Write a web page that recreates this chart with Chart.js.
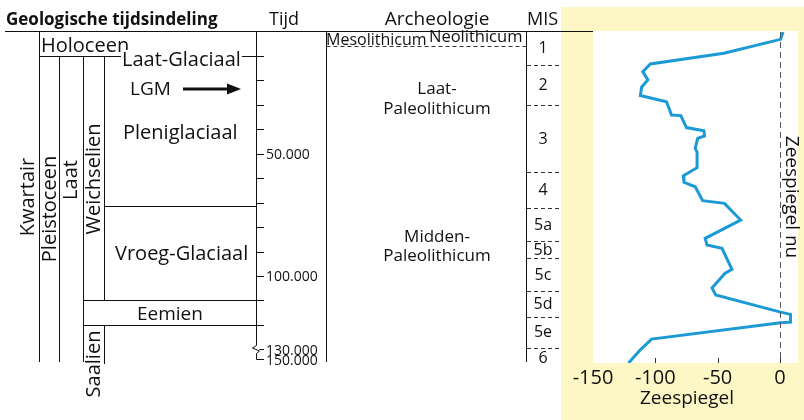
<!DOCTYPE html>
<html><head><meta charset="utf-8">
<script src="https://cdn.jsdelivr.net/npm/chart.js@4.4.1/dist/chart.umd.min.js"></script>
<style>html,body{margin:0;padding:0;background:#fff;overflow:hidden}canvas{display:block}</style>
</head><body>
<canvas id="c" width="804" height="420"></canvas>
<script>
// ---------- data ----------
// time in years before present, sea level in metres relative to today
const timeYears = [0, 3000, 8700, 13100, 16200, 19600, 22600, 26000, 28500, 34000,
  34200, 39100, 40400, 42500, 43500, 47600, 49000, 55500, 58800, 61500,
  63300, 69000, 70100, 76900, 84400, 87100, 88500, 97100, 98700, 104700,
  107600, 114600, 115500, 118700, 118900, 125600, 130100, 156000];
const seaLevel = [2.5, 0.5, -45, -104, -110, -106, -111, -112, -91, -87,
  -79.5, -75, -61, -60.5, -66, -68, -66.5, -66.5, -77.5, -77,
  -68, -62, -44.5, -31.5, -60, -58.5, -46.5, -38.5, -44, -54.5,
  -51.5, 0.5, 8.5, 8.5, 0.5, -103, -112, -121.5];
const seaTicks = [-150, -100, -50, 0];
const timeMinorTicks = [10000, 20000, 30000, 40000, 50000, 60000, 70000, 80000, 90000, 100000, 110000, 120000, 130000, 150000];
const timeTickLabels = [50000, 100000, 130000, 150000];
const timeMaxReal = 156000;
const axisBreakFrom = 130000, axisBreakFactor = 0.2075; // compressed 130.000-150.000
const misLabels = ['1', '2', '3', '4', '5a', '5b', '5c', '5d', '5e', '6'];
const misBoundaries = [13600, 30000, 57600, 72200, 85800, 92600, 106300, 116600, 129400];
const holoceneEnd = 10000, plenglacialEnd = 71500, eemienStart = 110000, eemienEnd = 120000;
const mesolithicEnd = 6000;

const FONT = '"Open Sans", "Noto Sans", sans-serif';
const INK = '#111';
const YELLOW = '#fdf7c6';
const BLUE = '#1b9ad6';

function axisT(t) { return t <= axisBreakFrom ? t : axisBreakFrom + (t - axisBreakFrom) * axisBreakFactor; }
function fmtT(t) { return String(t).replace(/\B(?=(\d{3})+(?!\d))/g, '.'); }

const geoPlugin = {
  id: 'geo',
  beforeDraw(chart) {
    const { ctx, chartArea: a } = chart;
    ctx.save();
    ctx.fillStyle = '#fff'; ctx.fillRect(0, 0, 804, 420);
    ctx.fillStyle = YELLOW; ctx.fillRect(561, 7, 804 - 561, 420 - 7);
    ctx.fillStyle = '#fff'; ctx.fillRect(a.left, a.top - 1, a.right - a.left, a.bottom - a.top + 1);
    ctx.restore();
  },
  afterDatasetsDraw(chart) {
    const { ctx, chartArea: a } = chart;
    const ys = chart.scales.y, xs = chart.scales.x;
    const yP = t => Math.floor(ys.getPixelForValue(axisT(t))) + 0.5;
    const yRaw = t => ys.getPixelForValue(axisT(t));
    ctx.save();
    ctx.strokeStyle = INK; ctx.lineWidth = 1;
    const line = (x1, y1, x2, y2) => { ctx.beginPath(); ctx.moveTo(x1, y1); ctx.lineTo(x2, y2); ctx.stroke(); };
    const text = (s, x, y, size, opts = {}) => {
      ctx.save();
      ctx.font = (opts.bold ? 'bold ' : '') + size + 'px ' + FONT;
      ctx.fillStyle = INK;
      ctx.textAlign = opts.align || 'left';
      ctx.textBaseline = opts.base || 'alphabetic';
      ctx.translate(x, y);
      if (opts.rot) ctx.rotate(opts.rot);
      if (opts.bg) {
        const w = ctx.measureText(s).width;
        ctx.fillStyle = '#fff';
        const x0 = ctx.textAlign === 'center' ? -w / 2 : 0;
        ctx.fillRect(x0 - 1, -size * 0.8, w + 2, size);
        ctx.fillStyle = INK;
      }
      ctx.fillText(s, 0, 0);
      ctx.restore();
    };

    // zero sea-level reference (dashed)
    const x0 = xs.getPixelForValue(0);
    ctx.save();
    ctx.strokeStyle = '#555'; ctx.setLineDash([6, 4]);
    line(Math.round(x0) + 0.5, a.top, Math.round(x0) + 0.5, a.bottom);
    ctx.restore();
    // inward ticks on the sea-level axis
    ctx.save(); ctx.strokeStyle = '#333';
    seaTicks.forEach(v => { if (v > -150) { const px = Math.round(xs.getPixelForValue(v)) + 0.5; line(px, a.bottom - 5, px, a.bottom); } });
    ctx.restore();
    // sea-level axis title
    text('Zeespiegel', 687, 404, 19, { align: 'center' });

    // header line
    const top = yP(0) - 1;
    line(5, top, a.left, top);

    // geological columns
    const yH = yP(holoceneEnd), yPl = yP(plenglacialEnd), yE1 = yP(eemienStart), yE2 = yP(eemienEnd);
    const bottom = 362;
    line(39.5, top, 39.5, bottom);
    line(59.5, yH, 59.5, bottom);
    line(83.5, yH, 83.5, bottom);
    line(104.5, yH, 104.5, yE1);
    line(104.5, yE2, 104.5, 364);
    line(39.5, yH, 264, yH);
    line(104.5, yPl, 256.5, yPl);
    line(83.5, yE1, 264, yE1);
    line(83.5, yE2, 264, yE2);

    // time axis
    const y130 = yP(130000), y150 = yP(150000);
    line(256.5, top, 256.5, y130 - 4);
    ctx.beginPath();
    ctx.moveTo(256.5, y130 - 4); ctx.lineTo(252.5, y130 - 1.5); ctx.lineTo(259.5, y130 + 1.5); ctx.lineTo(256.5, y130 + 4);
    ctx.lineTo(256.5, y150);
    ctx.stroke();
    timeMinorTicks.forEach(t => line(t === 130000 ? 259.5 : 256.5, yP(t), 264, yP(t)));
    timeTickLabels.forEach(t => text(fmtT(t), 266, yRaw(t) + 1, 14, { base: 'middle' }));

    // archaeology + MIS columns
    line(326.5, top, 326.5, bottom);
    line(526.5, top, 526.5, bottom);
    ctx.save(); ctx.strokeStyle = '#333'; ctx.setLineDash([4, 3]);
    line(326.5, yP(mesolithicEnd), 526, yP(mesolithicEnd));
    misBoundaries.forEach(t => line(527, yP(t), 561, yP(t)));
    ctx.restore();

    // MIS labels
    const misEdges = [0, ...misBoundaries, timeMaxReal];
    misLabels.forEach((lab, i) => {
      const yc = (yRaw(misEdges[i]) + yRaw(misEdges[i + 1])) / 2;
      text(lab, 543, i === misLabels.length - 1 ? 358 : yc, 16, { align: 'center', base: 'middle' });
    });

    // headings
    text('Geologische tijdsindeling', 6, 25, 17, { bold: true });
    text('Tijd', 269, 25, 18);
    text('Archeologie', 437, 25, 19, { align: 'center' });
    text('MIS', 527, 25, 18);

    // unit names
    text('Holoceen', 41, 52, 20);
    text('Laat-Glaciaal', 122, 66, 20, { bg: true });
    text('LGM', 130, 95, 19);
    text('Pleniglaciaal', 123, 139, 20);
    text('Vroeg-Glaciaal', 115, 260, 20);
    text('Eemien', 137, 320, 19);
    // LGM arrow
    ctx.save();
    ctx.lineWidth = 3; line(183, 89, 230, 89);
    ctx.fillStyle = INK; ctx.beginPath(); ctx.moveTo(241, 89); ctx.lineTo(227, 83.5); ctx.lineTo(227, 94.5); ctx.closePath(); ctx.fill();
    ctx.restore();

    const R = -Math.PI / 2;
    text('Kwartair', 28, 197, 20, { align: 'center', base: 'middle', rot: R });
    text('Pleistoceen', 50, 209, 20, { align: 'center', base: 'middle', rot: R });
    text('Laat', 71, 180, 20, { align: 'center', base: 'middle', rot: R });
    text('Weichselien', 94, 179, 20, { align: 'center', base: 'middle', rot: R });
    text('Saalien', 94, 364, 20, { align: 'center', base: 'middle', rot: R });

    text('Mesolithicum', 326, 45, 16);
    text('Neolithicum', 429, 42, 16.5);
    text('Laat-', 437, 94, 17, { align: 'center' });
    text('Paleolithicum', 437, 114, 17, { align: 'center' });
    text('Midden-', 437, 242, 17, { align: 'center' });
    text('Paleolithicum', 437, 261, 17, { align: 'center' });

    text('Zeespiegel nu', 791, 197, 19, { align: 'center', base: 'middle', rot: Math.PI / 2 });
    ctx.restore();
  }
};

new Chart(document.getElementById('c'), {
  type: 'line',
  data: {
    datasets: [{
      label: 'Zeespiegel',
      data: timeYears.map((t, i) => ({ x: seaLevel[i], y: axisT(t) })),
      borderColor: BLUE, borderWidth: 3, pointRadius: 0, tension: 0, fill: false,
      borderJoinStyle: 'miter'
    }]
  },
  options: {
    responsive: false, animation: false, devicePixelRatio: 1,
    indexAxis: 'y',
    layout: { padding: { left: 593, right: 6, top: 32, bottom: 0 } },
    plugins: { legend: { display: false }, tooltip: { enabled: false } },
    scales: {
      x: {
        type: 'linear', position: 'bottom', min: -150, max: 14.5,
        afterBuildTicks: s => { s.ticks = seaTicks.map(v => ({ value: v })); },
        afterFit: s => { s.height = 57; },
        grid: { display: false, drawTicks: false }, border: { display: false },
        ticks: { font: { size: 20, family: FONT }, color: INK, padding: 3, maxRotation: 0, autoSkip: false, callback: v => String(v) },
        title: { display: false }
      },
      y: { type: 'linear', display: false, reverse: true, min: 0, max: axisT(timeMaxReal) }
    }
  },
  plugins: [geoPlugin]
});
</script>
</body></html>
